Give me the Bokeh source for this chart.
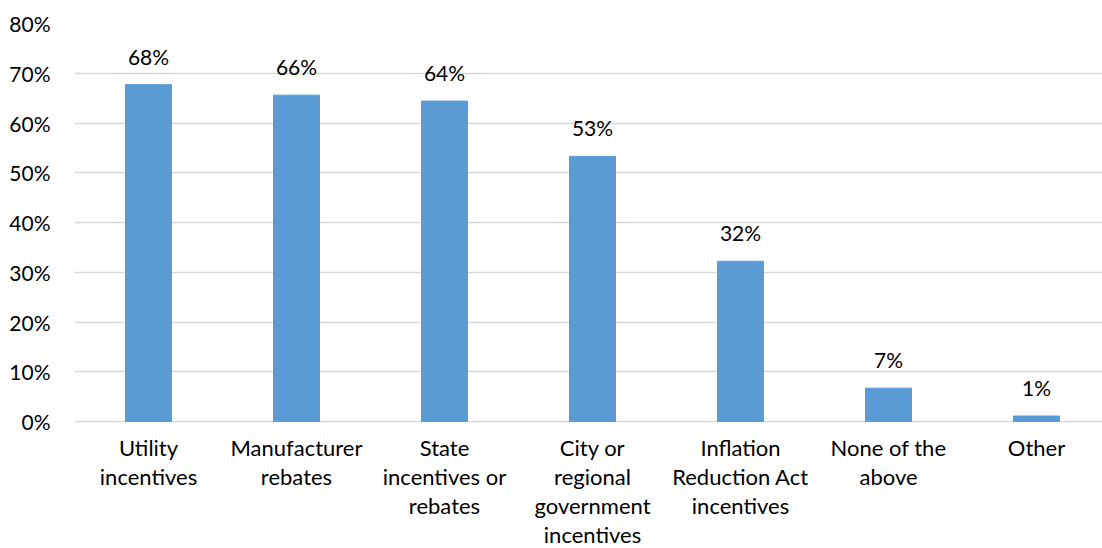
from bokeh.plotting import figure
from bokeh.models import ColumnDataSource, FixedTicker, PrintfTickFormatter, Range1d, LabelSet
from bokeh.core.properties import value
from bokeh.embed import file_html
from bokeh.resources import INLINE

categories = ["Utility\nincentives", "Manufacturer\nrebates", "State\nincentives or\nrebates",
              "City or\nregional\ngovernment\nincentives", "Inflation\nReduction Act\nincentives",
              "None of the\nabove", "Other"]
values = [67.7, 65.6, 64.4, 53.3, 32.2, 6.7, 1.1]
value_labels = ["68%", "66%", "64%", "53%", "32%", "7%", "1%"]
y_ticks = [0, 10, 20, 30, 40, 50, 60, 70, 80]

FONT = "Lato"
W, H = 1102, 548
left, top = 74, 23
zero_px = 421            # pixel row of the 0% line
frame_w = W - left
slot = 148.0
px_per_unit = (zero_px - top) / 80.0
y_bottom = -(H - zero_px) / px_per_unit
cat_size = 22.0
cat_spacing = 28.5

xs = [i + 0.5 for i in range(len(categories))]
src = ColumnDataSource(dict(x=xs, top=values, lab=value_labels))
cat_src = ColumnDataSource(dict(x=xs, y=[-12 / px_per_unit] * len(xs), text=categories))

p = figure(width=W, height=H, output_backend="svg", toolbar_location=None,
           x_range=Range1d(0, frame_w / slot), y_range=Range1d(y_bottom, 80),
           min_border_left=left, min_border_right=0, min_border_top=top, min_border_bottom=0)
p.outline_line_color = None
p.background_fill_color = "white"
p.border_fill_color = "white"

p.vbar(x="x", top="top", bottom=0, width=46 / slot, source=src, color="#5B9BD5")

labels = LabelSet(x="x", y="top", text="lab", source=src, text_align="center",
                  text_baseline="bottom", y_offset=16, text_font=value(FONT),
                  text_font_size="21px", text_color="#000000")
p.add_layout(labels)

p.text(x="x", y="y", text="text", source=cat_src, text_align="center", text_baseline="top",
       text_font=value(FONT), text_font_size=f"{cat_size}px", text_color="#000000",
       text_line_height=cat_spacing / (1.2 * cat_size))

p.yaxis.ticker = FixedTicker(ticks=y_ticks)
p.yaxis.formatter = PrintfTickFormatter(format="%d%%")
p.yaxis.axis_line_color = None
p.yaxis.major_tick_line_color = None
p.yaxis.minor_tick_line_color = None
p.yaxis.major_label_text_font = FONT
p.yaxis.major_label_text_font_size = "21px"
p.yaxis.major_label_text_color = "#000000"
p.yaxis.major_label_standoff = 18

p.xaxis.visible = False
p.xgrid.grid_line_color = None
p.ygrid.ticker = FixedTicker(ticks=y_ticks)
p.ygrid.grid_line_color = "#d9d9d9"
p.ygrid.grid_line_width = 1.5

open("out.html", "w").write(file_html(p, INLINE))
